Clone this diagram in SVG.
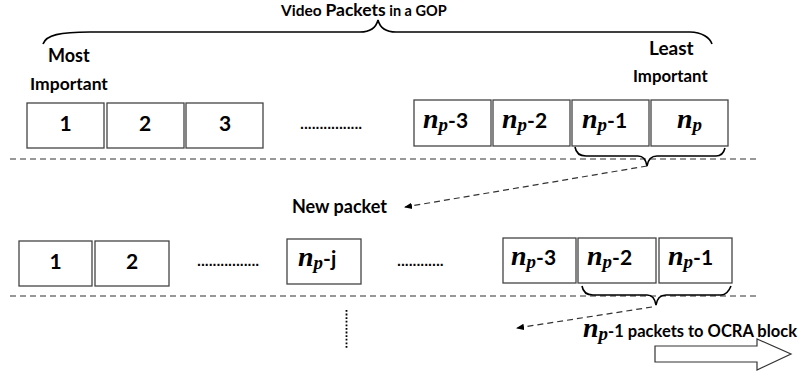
<svg xmlns="http://www.w3.org/2000/svg" width="799" height="375" viewBox="0 0 799 375">
<style>
.box{fill:#fff;stroke:#444;stroke-width:1.3}
.t{font-family:Lato,"Liberation Sans",sans-serif;font-weight:bold;fill:#000}
.m{font-family:"Liberation Serif",serif;font-weight:bold;font-style:italic}
.dash{stroke:#333;stroke-width:1.2;stroke-dasharray:6 4;fill:none}
.brace{fill:none;stroke:#000;stroke-width:1.6}
.dots{font-family:"Liberation Sans",sans-serif;font-weight:bold;font-size:14px;fill:#000}
</style>
<defs>
<marker id="ah" markerWidth="8" markerHeight="8" refX="7" refY="4" orient="auto" markerUnits="userSpaceOnUse">
<path d="M0,0.8 L8,4 L0,7.2 Z" fill="#000"/>
</marker>
</defs>
<g id="title">
<text class="t" y="16"><tspan x="281" font-size="15.5">Video </tspan><tspan font-size="17.5">Packets</tspan><tspan font-size="14.5"> in a GOP</tspan></text>
<path class="brace" d="M43,44 C46,35 60,32 90,32 L360,32 C370,32 376,28 378,20 C380,28 386,32 396,32 L690,32 C702,32 710,38 712,44"/>
</g>
<g id="labels">
<text class="t" x="48" y="62" font-size="18">Most</text>
<text class="t" x="30" y="90" font-size="17.5">Important</text>
<text class="t" x="649" y="55" font-size="19">Least</text>
<text class="t" x="633" y="82" font-size="16.8">Important</text>
</g>
<g id="row1">
<g id="r1-1"><rect class="box" x="27" y="103" width="77" height="45"/><text class="t" x="65.5" y="131" font-size="21" text-anchor="middle">1</text></g>
<g id="r1-2"><rect class="box" x="107" y="103" width="77" height="45"/><text class="t" x="145" y="131" font-size="21" text-anchor="middle">2</text></g>
<g id="r1-3"><rect class="box" x="186" y="103" width="77" height="45"/><text class="t" x="225" y="131" font-size="21" text-anchor="middle">3</text></g>
<text class="dots" x="300" y="129">................</text>
<g id="r1-np3"><rect class="box" x="414" y="100" width="77" height="46"/><text class="t" x="423" y="128" font-size="21"><tspan class="m" font-size="28">n</tspan><tspan class="m" font-size="19" dy="3">p</tspan><tspan dy="-3">-3</tspan></text></g>
<g id="r1-np2"><rect class="box" x="493" y="100" width="77" height="46"/><text class="t" x="502" y="128" font-size="21"><tspan class="m" font-size="28">n</tspan><tspan class="m" font-size="19" dy="3">p</tspan><tspan dy="-3">-2</tspan></text></g>
<g id="r1-np1"><rect class="box" x="572" y="100" width="77" height="46"/><text class="t" x="582" y="128" font-size="21"><tspan class="m" font-size="28">n</tspan><tspan class="m" font-size="19" dy="3">p</tspan><tspan dy="-3">-1</tspan></text></g>
<g id="r1-np"><rect class="box" x="651" y="100" width="77" height="46"/><text class="t" x="677" y="128" font-size="21"><tspan class="m" font-size="28">n</tspan><tspan class="m" font-size="19" dy="3">p</tspan></text></g>
</g>
<g id="row2">
<g id="r2-1"><rect class="box" x="19" y="241" width="73" height="45"/><text class="t" x="55.5" y="269" font-size="21" text-anchor="middle">1</text></g>
<g id="r2-2"><rect class="box" x="95" y="241" width="74" height="45"/><text class="t" x="132" y="269" font-size="21" text-anchor="middle">2</text></g>
<text class="dots" x="197" y="266">................</text>
<g id="r2-npj"><rect class="box" x="287" y="239" width="74" height="45"/><text class="t" x="298" y="266" font-size="21"><tspan class="m" font-size="28">n</tspan><tspan class="m" font-size="19" dy="3">p</tspan><tspan dy="-3">-j</tspan></text></g>
<text class="dots" x="397" y="266">............</text>
<g id="r2-np3"><rect class="box" x="503" y="238" width="73" height="45"/><text class="t" x="511" y="265" font-size="21"><tspan class="m" font-size="28">n</tspan><tspan class="m" font-size="19" dy="3">p</tspan><tspan dy="-3">-3</tspan></text></g>
<g id="r2-np2"><rect class="box" x="578" y="238" width="78" height="45"/><text class="t" x="587" y="265" font-size="21"><tspan class="m" font-size="28">n</tspan><tspan class="m" font-size="19" dy="3">p</tspan><tspan dy="-3">-2</tspan></text></g>
<g id="r2-np1"><rect class="box" x="659" y="238" width="73" height="45"/><text class="t" x="668" y="265" font-size="21"><tspan class="m" font-size="28">n</tspan><tspan class="m" font-size="19" dy="3">p</tspan><tspan dy="-3">-1</tspan></text></g>
</g>
<g id="newpacket"><text class="t" x="292" y="213" font-size="18">New packet</text></g>
<g id="ocra">
<text class="t" x="583" y="337" font-size="16.5"><tspan class="m" font-size="28">n</tspan><tspan class="m" font-size="19" dy="3">p</tspan><tspan dy="-3">-1 packets to OCRA block</tspan></text>
<polygon points="655,346 757,346 757,339 791,354 757,370 757,362 655,362" fill="#fff" stroke="#333" stroke-width="1.2"/>
</g>
<g id="connectors">
<line class="dash" x1="10" y1="159" x2="759" y2="159"/>
<line class="dash" x1="10" y1="296" x2="759" y2="296"/>
<path class="brace" d="M575,147 C576,153 579,156 586,156 L638,156 C644,156 646,160 647,166 C648,160 651,156 657,156 L716,156 C721,156 724,152 725,148"/>
<path class="brace" d="M582,286 C583,292 586,295 593,295 L647,295 C653,295 655,299 656,305 C657,299 660,295 666,295 L721,295 C726,295 729,291 731,286"/>
<line class="dash" x1="647" y1="166" x2="405" y2="207" marker-end="url(#ah)"/>
<line class="dash" x1="652" y1="307" x2="517" y2="328" marker-end="url(#ah)"/>
<line x1="346.5" y1="310" x2="346.5" y2="348" stroke="#000" stroke-width="1.8" stroke-dasharray="1.8 1.8"/>
</g>
</svg>
